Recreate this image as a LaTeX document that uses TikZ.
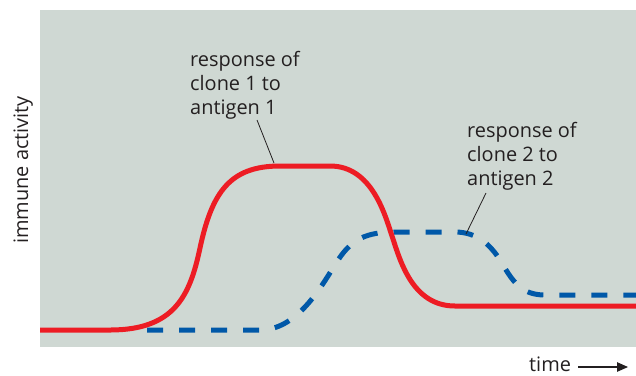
\documentclass[tikz,border=0pt]{standalone}
\usepackage{fontspec}
\setmainfont{Open Sans}
\usetikzlibrary{arrows.meta,calc}
\definecolor{panel}{RGB}{207,216,211}
\definecolor{redc}{RGB}{237,28,36}
\definecolor{bluec}{RGB}{0,88,168}
\definecolor{ink}{RGB}{35,31,32}
\tikzset{
  lbl/.style={inner sep=0pt, text=ink, font=\fontsize{20}{24}\selectfont, align=left},
  redcurve/.style={draw=redc, line width=5bp, line join=round},
  bluecurve/.style={draw=bluec, line width=5bp, dash pattern=on 16bp off 16bp},
  leader/.style={draw=ink, line width=0.8bp},
  timearrow/.style={draw=ink, line width=2bp, -{Triangle[length=11bp,width=9bp]}}
}
\begin{document}
\begin{tikzpicture}[x=1bp,y=-1bp]
\useasboundingbox (0,0) rectangle (636,375);
\fill[panel] (40,10) rectangle (636,347);
% blue dashed (clone 2)
\draw[bluecurve] (147,330) -- (260,330)
  .. controls (295,330) and (318,292) .. (333,268)
  .. controls (348,243) and (360,232) .. (395,232)
  -- (455,232)
  .. controls (478,232) and (491,246) .. (500,260)
  .. controls (512,280) and (520,295) .. (545,295)
  -- (636,295);
% red (clone 1)
\draw[redcurve] (40,330) -- (110,330)
  .. controls (175,330) and (190,295) .. (200,248)
  .. controls (212,192) and (230,166) .. (280,166)
  -- (330,166)
  .. controls (372,166) and (385,215) .. (392,236)
  .. controls (400,260) and (412,306) .. (455,306)
  -- (636,306);
% labels
\node[lbl, anchor=north west] (lab1) at (190,51) {response of\\clone 1 to\\antigen 1};
\node[lbl, anchor=north west] (lab2) at (467,122) {response of\\clone 2 to\\antigen 2};
\coordinate (p1) at (257,120);
\coordinate (q1) at (274,163);
\coordinate (p2) at (486,193);
\coordinate (q2) at (466,234);
\draw[leader] (p1) -- (q1);
\draw[leader] (p2) -- (q2);
% axis labels
\node[lbl, rotate=90, anchor=base] (ylab) at (28,170) {immune activity};
\node[lbl, text depth=0pt, anchor=base west] (time) at (529,371) {time};
\coordinate (a1) at ($(time.base east)+(7,-4)$);
\coordinate (a2) at ($(a1)+(50,0)$);
\draw[timearrow] (a1) -- (a2);
\end{tikzpicture}
\end{document}
